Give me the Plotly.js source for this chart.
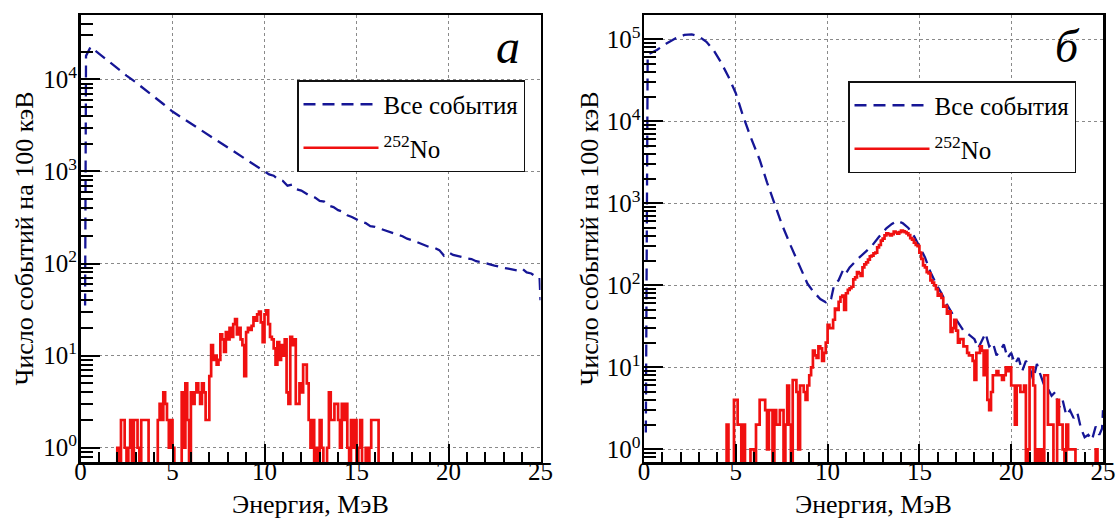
<!DOCTYPE html>
<html><head><meta charset="utf-8">
<script src="https://cdn.plot.ly/plotly-3.0.1.min.js"></script>
<style>html,body{margin:0;padding:0;background:#fff}#chart{width:1117px;height:518px}</style>
</head><body><div id="chart"></div>
<script>
// ---------- DATA ----------
// Panel "а": all events (energy, MeV / counts per 100 keV)
const leftAllE = [0.25,0.3,0.55,1,1.5,2,2.5,3,3.5,4,4.5,5,5.5,6,6.5,7,7.5,8,8.5,9,9.5,10,
  10.25,10.5,10.75,11,11.25,11.5,11.75,12,12.25,12.5,12.75,13,13.25,13.5,13.75,14,14.25,14.5,14.75,15,
  15.25,15.5,15.75,16,16.25,16.5,16.75,17,17.25,17.5,17.75,18,18.25,18.5,18.75,19,19.25,19.5,19.75,20,
  20.25,20.5,20.75,21,21.25,21.5,21.75,22,22.25,22.5,22.75,23,23.25,23.5,23.75,24,24.25,24.5,24.75,24.95,25];
const leftAllCounts = [35,18000,22500,19000,15900,13300,11000,9300,7800,6500,5400,4470,3850,3310,2850,2450,2110,1820,1570,1350,1160,1000,
  930,900,820,790,700,720,640,620,580,540,520,480,470,425,410,380,365,335,320,300,
  285,275,255,250,240,228,222,212,205,198,186,180,172,165,160,150,148,140,122,132,
  124,120,118,114,112,106,104,100,98,95,92,90,88,86,84,88,80,78,72,70,40];

// Panel "а": 252No histogram, 100 keV bins starting at 2.0 MeV
const leftNoStart = 2.0;
const leftNoCounts = [
  1,0,2,2,1,0,1,2,0,2, 2,1,0,2,2,2,2,0,0,0,
  0,0,2,3,2,4,3,2,1,2, 1,0,0,0,0,
  4,1,5,2,0,4,3,4,5,4, 3,5,4,2,
  2,6,13,9,10,8,9,17,15,11, 18,15,20,16,22,25,17,20,15,13, 6,18,20,19,21,26,24,28,30,23, 14,28,31,22,16,15,12,8,14,9, 13,10,15,
  4,3,16,13,15,3,3,5,4,8, 8,5,2,1,2,0,1,0,2,1, 0,0,1,4,2,2,3,3,2,1, 3,2,3,1,0,2,1,2,0,1, 2,0,0,1,0,1,2,2,2,2
];

// Panel "б": all events
const rightAllE = [0.1,0.2,0.7,1.2,1.7,2.2,2.6,3.0,3.4,3.8,4.2,4.6,5.0,5.4,5.8,6.3,6.7,7.05,7.5,8.0,8.5,8.9,9.2,9.6,9.9,
  10.1,10.2,10.35,10.6,10.85,11.0,11.2,11.6,12.0,12.4,12.8,13.2,13.5,13.8,14.1,14.4,14.7,15.0,15.3,15.6,15.9,16.2,16.5,16.8,
  17.1,17.4,17.7,18.0,18.2,18.4,18.6,18.8,19.0,19.2,19.4,19.6,19.8,20.0,20.2,20.4,20.6,20.8,21.0,21.2,21.4,21.6,21.8,22.0,
  22.2,22.4,22.6,22.8,23.0,23.2,23.4,23.6,23.8,24.0,24.2,24.4,24.6,24.8,24.95,25.0];
const rightAllCounts = [1.6,65000,74000,88000,102000,113000,115000,108000,93000,73000,52000,35000,22000,11500,6500,3400,1800,1050,560,300,170,105,85,68,62,
  72,70,100,115,155,140,165,205,245,300,390,495,560,610,570,500,400,300,220,145,105,80,58,45,
  36,28,25,22,17,21,26,18,20,14,16,19,13,15,11,13,9,12,10,7,11,8,6,5.5,
  4.5,5,3.2,4,2.6,3,2.4,2.8,1.8,1.4,1.5,1.3,1.9,1.5,1.8,3];

// Panel "б": 252No histogram, 100 keV bins starting at 4.5 MeV
const rightNoStart = 4.5;
const rightNoCounts = [
  2,0,0,0,4,
  4,2,2,0,2,0,0,0,1,1,
  0,2,2,4,4,4,3,1,3,3,
  0,3,2,2,3,3,0,2,6,2,
  0,7,7,5,1,6,6,5,4,6,
  8,10,16,14,13,18,17,12,15,20,
  33,30,30,38,52,50,63,72,75,50,
  80,88,92,96,118,125,145,140,130,165,
  180,190,205,225,230,245,250,290,310,350,
  370,405,430,420,405,420,450,440,425,445,
  465,455,445,430,410,375,360,330,310,300,
  250,210,175,165,145,140,115,108,100,90,
  75,78,70,55,56,45,48,27,30,38,
  28,20,22,22,18,18,15,14,14,12,
  7,15,15,18,16,8,16,4,3,5,
  8,8,9,8,8,7,8,10,9,10,
  6,6,2,6,6,5,5,6,0,1,
  10,10,6,0,1,0,1,0,8,8,
  2,2,2,0,0,4,2,2,1,0,
  2,1,1,1,1,0,0,0,0,0,
  0,0,0,0,0,0,1,0,0,0
];

const binWidth = 0.1;
const xTickVals = [0,5,10,15,20,25];
const yTickValsL = [1,10,100,1000,10000];
const yTickTextL = ['10<sup>0</sup>','10<sup>1</sup>','10<sup>2</sup>','10<sup>3</sup>','10<sup>4</sup>'];
const yTickValsR = [1,10,100,1000,10000,100000];
const yTickTextR = ['10<sup>0</sup>','10<sup>1</sup>','10<sup>2</sup>','10<sup>3</sup>','10<sup>4</sup>','10<sup>5</sup>'];
const labelAll = 'Все события';
const labelNo = '<sup>252</sup>No';
const xTitle = 'Энергия, МэВ';
const yTitle = 'Число событий на 100 кэВ';

// ---------- BUILD ----------
const FLOOR = 0.01; // empty bins drawn below the axis
function stepTrace(start, counts) {
  const x = [start], y = [FLOOR];
  counts.forEach((c, i) => { x.push(+(start + i * binWidth).toFixed(3)); y.push(c > 0 ? c : FLOOR); });
  x.push(+(start + counts.length * binWidth).toFixed(3)); y.push(FLOOR);
  return {x, y};
}
const lNo = stepTrace(leftNoStart, leftNoCounts);
const rNo = stepTrace(rightNoStart, rightNoCounts);

const blue = 'rgb(22,22,150)';
const red = 'rgb(240,16,16)';
const serif = "'Liberation Serif', 'Times New Roman', serif";

const traces = [
  {x: leftAllE, y: leftAllCounts, type: 'scatter', mode: 'lines', name: labelAll, legend: 'legend', legendgroup: 'a1',
   line: {color: blue, width: 2.3, dash: '12px,7px'}, xaxis: 'x', yaxis: 'y'},
  {x: lNo.x, y: lNo.y, type: 'scatter', mode: 'lines', name: labelNo, legend: 'legend', legendgroup: 'a2',
   line: {color: red, width: 2.7, shape: 'hv'}, xaxis: 'x', yaxis: 'y'},
  {x: rightAllE, y: rightAllCounts, type: 'scatter', mode: 'lines', name: labelAll, legend: 'legend2', legendgroup: 'b1',
   line: {color: blue, width: 2.3, dash: '12px,7px'}, xaxis: 'x2', yaxis: 'y2'},
  {x: rNo.x, y: rNo.y, type: 'scatter', mode: 'lines', name: labelNo, legend: 'legend2', legendgroup: 'b2',
   line: {color: red, width: 2.7, shape: 'hv'}, xaxis: 'x2', yaxis: 'y2'}
];

const W = 1117, H = 518, T = 15, B = 56;
const PH = H - T - B;
const py = v => (H - B - v) / PH; // pixel row -> paper y

function xAxis(domain, anchor) {
  return {domain, anchor, range: [0, 25], tickmode: 'array', tickvals: xTickVals,
    ticks: 'inside', ticklen: 18, tickwidth: 2, tickcolor: '#000', ticklabelstandoff: -15,
    minor: {dtick: 1, tick0: 0, ticks: 'inside', ticklen: 10, tickwidth: 2, tickcolor: '#000', showgrid: false},
    showline: true, linecolor: '#000', linewidth: 2.5, mirror: true, zeroline: false,
    showgrid: true, gridcolor: '#8a8a8a', gridwidth: 1.3, griddash: 'dot',
    tickfont: {family: serif, size: 25, color: '#000'}, automargin: false};
}
function yAxis(range, vals, text, anchor) {
  return {type: 'log', range, anchor, domain: [0, 1], tickmode: 'array', tickvals: vals, ticktext: text,
    ticks: 'inside', ticklen: 19, tickwidth: 2, tickcolor: '#000', ticklabelstandoff: -4,
    minor: {tickmode: 'linear', dtick: 'D1', ticks: 'inside', ticklen: 12, tickwidth: 2, tickcolor: '#000', showgrid: false},
    showline: true, linecolor: '#000', linewidth: 2.5, mirror: true, zeroline: false,
    showgrid: true, gridcolor: '#8a8a8a', gridwidth: 1.3, griddash: 'dot',
    tickfont: {family: serif, size: 25, color: '#000'}, automargin: false};
}
function legendBox(xpx, ypx) {
  return {x: xpx / W, y: py(ypx), xanchor: 'left', yanchor: 'top', bgcolor: '#fff',
    bordercolor: '#111', borderwidth: 1.5, itemwidth: 75, tracegroupgap: 8,
    font: {family: serif, size: 25, color: '#000'}, traceorder: 'grouped'};
}

const layout = {
  width: W, height: H, margin: {l: 0, r: 0, t: T, b: B},
  paper_bgcolor: '#fff', plot_bgcolor: '#fff', showlegend: true,
  xaxis: xAxis([80.5 / W, 540.5 / W], 'y'),
  yaxis: yAxis([Math.log10(0.7), 4.699], yTickValsL, yTickTextL, 'x'),
  xaxis2: xAxis([644 / W, 1103 / W], 'y2'),
  yaxis2: yAxis([Math.log10(0.7), 5.296], yTickValsR, yTickTextR, 'x2'),
  legend: legendBox(297, 80),
  legend2: legendBox(848, 81),
  annotations: [
    {text: yTitle, xref: 'paper', yref: 'paper', x: 24 / W, y: 0.5, textangle: -90, showarrow: false,
     xanchor: 'center', yanchor: 'middle', font: {family: serif, size: 26, color: '#000'}},
    {text: yTitle, xref: 'paper', yref: 'paper', x: 589 / W, y: 0.5, textangle: -90, showarrow: false,
     xanchor: 'center', yanchor: 'middle', font: {family: serif, size: 26, color: '#000'}},
    {text: xTitle, xref: 'paper', yref: 'paper', x: 310.5 / W, y: py(505), showarrow: false,
     xanchor: 'center', yanchor: 'middle', font: {family: serif, size: 26, color: '#000'}},
    {text: xTitle, xref: 'paper', yref: 'paper', x: 873.5 / W, y: py(505), showarrow: false,
     xanchor: 'center', yanchor: 'middle', font: {family: serif, size: 26, color: '#000'}},
    {text: '<i>а</i>', xref: 'paper', yref: 'paper', x: 522 / W, y: py(47), showarrow: false,
     xanchor: 'right', yanchor: 'middle', font: {family: serif, size: 48, color: '#000'}},
    {text: '<i>б</i>', xref: 'paper', yref: 'paper', x: 1082 / W, y: py(46), showarrow: false,
     xanchor: 'right', yanchor: 'middle', font: {family: serif, size: 46, color: '#000'}}
  ]
};

Plotly.newPlot('chart', traces, layout, {displayModeBar: false, staticPlot: true});
</script>
</body></html>
